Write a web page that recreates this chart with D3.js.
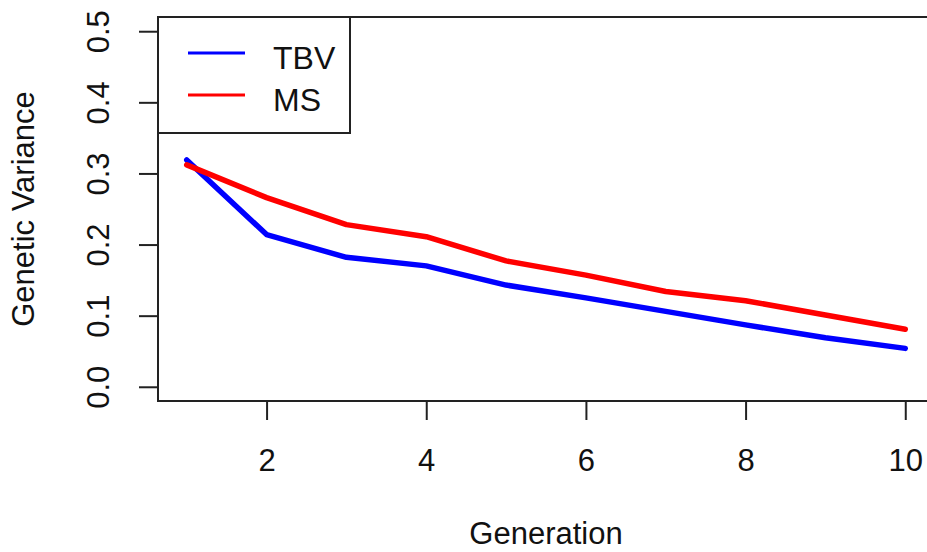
<!DOCTYPE html>
<html>
<head>
    <script src="https://cdnjs.cloudflare.com/ajax/libs/d3/7.8.5/d3.min.js"></script>
    <style>
        body { margin: 0; background: #fff; }
        text { font-family: "Liberation Sans", Arial, sans-serif; fill: #111; }
    </style>
</head>
<body>
    <div id="chart"></div>
    <script>
        var generations = [1, 2, 3, 4, 5, 6, 7, 8, 9, 10];
        var tbv = [0.319, 0.214, 0.182, 0.170, 0.143, 0.125, 0.106, 0.087, 0.069, 0.054];
        var ms = [0.312, 0.266, 0.228, 0.211, 0.177, 0.157, 0.134, 0.121, 0.101, 0.081];
        var xTicks = [2, 4, 6, 8, 10];
        var yTicks = [0.0, 0.1, 0.2, 0.3, 0.4, 0.5];
        var seriesNames = ["TBV", "MS"];
        var seriesColors = ["#0000ff", "#ff0000"];

        var width = 927, height = 552;
        var box = { left: 158, right: 934, top: 17, bottom: 401 };

        var svg = d3.select("#chart").append("svg")
            .attr("width", width)
            .attr("height", height);

        // R style: 4% padding around data range
        var xScale = d3.scaleLinear().domain([0.64, 10.36]).range([box.left, box.right]);
        var yScale = d3.scaleLinear().domain([-0.02, 0.52]).range([box.bottom, box.top]);

        var line = d3.line()
            .x(function (d) { return xScale(d[0]); })
            .y(function (d) { return yScale(d[1]); });

        var allSeries = [tbv, ms];
        for (var s = 0; s < allSeries.length; s++) {
            var pts = generations.map(function (g, i) { return [g, allSeries[s][i]]; });
            svg.append("path")
                .datum(pts)
                .attr("d", line)
                .attr("fill", "none")
                .attr("stroke", seriesColors[s])
                .attr("stroke-width", 5.5)
                .attr("stroke-linejoin", "round")
                .attr("stroke-linecap", "round");
        }

        // x axis
        var xAxis = svg.append("g")
            .attr("transform", "translate(0," + box.bottom + ")")
            .call(d3.axisBottom(xScale).tickValues(xTicks).tickSize(19).tickFormat(d3.format("d")));
        xAxis.select(".domain").remove();
        xAxis.selectAll("line").attr("stroke", "#222").attr("stroke-width", 2);
        xAxis.selectAll("text")
            .attr("y", 70).attr("dy", 0)
            .attr("fill", "#111")
            .style("font-size", "31px")
            .style("font-family", "'Liberation Sans', Arial, sans-serif");

        // y axis
        var yAxis = svg.append("g")
            .attr("transform", "translate(" + box.left + ",0)")
            .call(d3.axisLeft(yScale).tickValues(yTicks).tickSize(19).tickFormat(d3.format(".1f")));
        yAxis.select(".domain").remove();
        yAxis.selectAll("line").attr("stroke", "#222").attr("stroke-width", 2);
        yAxis.selectAll("text")
            .attr("x", 0).attr("y", 0).attr("dy", 0)
            .attr("transform", "translate(-49,0) rotate(-90)")
            .attr("fill", "#111")
            .style("text-anchor", "middle")
            .style("font-size", "31px")
            .style("font-family", "'Liberation Sans', Arial, sans-serif");

        // plot box
        svg.append("rect")
            .attr("x", box.left).attr("y", box.top)
            .attr("width", box.right - box.left).attr("height", box.bottom - box.top)
            .attr("fill", "none").attr("stroke", "#222").attr("stroke-width", 2);

        // axis titles
        svg.append("text")
            .attr("x", (box.left + box.right) / 2)
            .attr("y", 544)
            .style("text-anchor", "middle")
            .style("font-size", "31px")
            .text("Generation");

        svg.append("text")
            .attr("transform", "translate(34," + ((box.top + box.bottom) / 2) + ") rotate(-90)")
            .style("text-anchor", "middle")
            .style("font-size", "31px")
            .text("Genetic Variance");

        // legend
        var legend = svg.append("g");
        legend.append("rect")
            .attr("x", box.left).attr("y", box.top)
            .attr("width", 350 - box.left).attr("height", 133 - box.top)
            .attr("fill", "#fff").attr("stroke", "#222").attr("stroke-width", 2);
        var legendY = [53, 95];
        for (var l = 0; l < seriesNames.length; l++) {
            legend.append("line")
                .attr("x1", 188).attr("x2", 245)
                .attr("y1", legendY[l]).attr("y2", legendY[l])
                .attr("stroke", seriesColors[l]).attr("stroke-width", 3);
            legend.append("text")
                .attr("x", 273)
                .attr("y", legendY[l] + 16)
                .style("font-size", "32px")
                .text(seriesNames[l]);
        }
    </script>
</body>
</html>
